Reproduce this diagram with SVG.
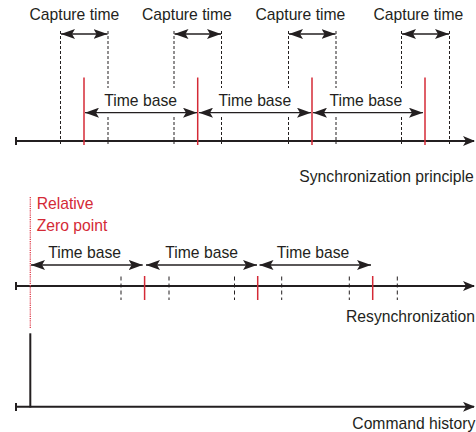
<svg xmlns="http://www.w3.org/2000/svg" width="476" height="432" viewBox="0 0 476 432">
<defs>
<style>
.t{font-family:"Liberation Sans",Arial,Helvetica,sans-serif;font-size:15.7px;fill:#231f20}
.r{fill:#d42a36}
.ax{stroke:#231f20;stroke-width:2;fill:none}
.ar{stroke:#231f20;stroke-width:1.3;fill:none;marker-start:url(#ah);marker-end:url(#ah)}
.dash{stroke:#231f20;stroke-width:1;stroke-dasharray:3 2;fill:none}
.dash2{stroke:#231f20;stroke-width:1;stroke-dasharray:4 3;fill:none}
.red{stroke:#d42a36;stroke-width:1.5;fill:none}
</style>
<marker id="ah" viewBox="0 0 14 10" refX="14" refY="5" markerWidth="14" markerHeight="10" markerUnits="userSpaceOnUse" orient="auto-start-reverse">
<path d="M0,0 L14,5 L0,10 L3,5 z" fill="#231f20"/>
</marker>
<marker id="ae" viewBox="0 0 12 10" refX="11" refY="5" markerWidth="12" markerHeight="10" markerUnits="userSpaceOnUse" orient="auto">
<path d="M0,0 L12,5 L0,10 L3,5 z" fill="#231f20"/>
</marker>
</defs>

<g id="connectors">
<g id="sync-axis">
<line class="ax" x1="16" y1="141" x2="474" y2="141" marker-end="url(#ae)"/>
<line class="ax" x1="16" y1="137" x2="16" y2="145" stroke-width="1.5"/>
</g>
<g id="sync-dashes">
<line class="dash" x1="60.5" y1="31" x2="60.5" y2="144"/>
<line class="dash" x1="108" y1="31" x2="108" y2="88"/>
<line class="dash" x1="108" y1="117" x2="108" y2="144"/>
<line class="dash" x1="174" y1="31" x2="174" y2="88"/>
<line class="dash" x1="174" y1="117" x2="174" y2="144"/>
<line class="dash" x1="221.5" y1="31" x2="221.5" y2="88"/>
<line class="dash" x1="221.5" y1="117" x2="221.5" y2="144"/>
<line class="dash" x1="288.5" y1="31" x2="288.5" y2="88"/>
<line class="dash" x1="288.5" y1="117" x2="288.5" y2="144"/>
<line class="dash" x1="336" y1="31" x2="336" y2="88"/>
<line class="dash" x1="336" y1="117" x2="336" y2="144"/>
<line class="dash" x1="401.5" y1="31" x2="401.5" y2="88"/>
<line class="dash" x1="401.5" y1="117" x2="401.5" y2="144"/>
<line class="dash" x1="449.5" y1="31" x2="449.5" y2="144"/>
</g>
<g id="sync-red">
<line class="red" x1="84" y1="77.5" x2="84" y2="145"/>
<line class="red" x1="197.7" y1="77.5" x2="197.7" y2="145"/>
<line class="red" x1="312" y1="77.5" x2="312" y2="145"/>
<line class="red" x1="425" y1="77.5" x2="425" y2="145"/>
</g>
<g id="capture-arrows">
<line class="ar" x1="61" y1="34" x2="107.5" y2="34"/>
<line class="ar" x1="174.5" y1="34" x2="221" y2="34"/>
<line class="ar" x1="289" y1="34" x2="335.5" y2="34"/>
<line class="ar" x1="402" y1="34" x2="449" y2="34"/>
</g>
<g id="timebase-arrows-top">
<line class="ar" x1="85" y1="112.7" x2="197" y2="112.7"/>
<line class="ar" x1="199" y1="112.7" x2="311" y2="112.7"/>
<line class="ar" x1="313" y1="112.7" x2="423" y2="112.7"/>
</g>

<g id="resync-axis">
<line class="ax" x1="16" y1="286" x2="474" y2="286" marker-end="url(#ae)"/>
<line class="ax" x1="16" y1="282" x2="16" y2="290" stroke-width="1.5"/>
</g>
<line id="zero-line" x1="30.3" y1="197" x2="30.3" y2="328.5" stroke="#e0404e" stroke-width="1.3" stroke-dasharray="1.2 1"/>
<g id="resync-ticks">
<line class="dash2" x1="121" y1="276.5" x2="121" y2="300"/>
<line class="dash2" x1="169" y1="276.5" x2="169" y2="300"/>
<line class="dash2" x1="234.5" y1="276.5" x2="234.5" y2="300"/>
<line class="dash2" x1="281.7" y1="276.5" x2="281.7" y2="300"/>
<line class="dash2" x1="349.3" y1="276.5" x2="349.3" y2="300"/>
<line class="dash2" x1="397.3" y1="276.5" x2="397.3" y2="300"/>
<line class="red" x1="144.6" y1="276" x2="144.6" y2="300"/>
<line class="red" x1="257.7" y1="276" x2="257.7" y2="300"/>
<line class="red" x1="372.7" y1="276" x2="372.7" y2="300"/>
</g>
<g id="timebase-arrows-mid">
<line class="ar" x1="31" y1="265" x2="142.7" y2="265"/>
<line class="ar" x1="146" y1="265" x2="257" y2="265"/>
<line class="ar" x1="259.5" y1="265" x2="371" y2="265"/>
</g>

<g id="command-axis">
<line class="ax" x1="16" y1="406.8" x2="474" y2="406.8" marker-end="url(#ae)"/>
<line class="ax" x1="16" y1="403" x2="16" y2="411" stroke-width="1.5"/>
<line class="ax" x1="30.3" y1="333.3" x2="30.3" y2="407.5" stroke-width="2.4"/>
</g>
</g>

<g id="labels-capture">
<text class="t" x="29.5" y="20">Capture time</text>
<text class="t" x="142" y="20">Capture time</text>
<text class="t" x="255.5" y="20">Capture time</text>
<text class="t" x="373.5" y="20">Capture time</text>
</g>
<g id="labels-timebase-top">
<text class="t" x="104.3" y="105.5">Time base</text>
<text class="t" x="218.5" y="105.5">Time base</text>
<text class="t" x="329.5" y="105.5">Time base</text>
</g>
<g id="label-sync"><text class="t" x="299.3" y="181.5">Synchronization principle</text></g>
<g id="label-zero">
<text class="t r" x="36.7" y="209">Relative</text>
<text class="t r" x="36.7" y="230.7">Zero point</text>
</g>
<g id="labels-timebase-mid">
<text class="t" x="48.3" y="258.3">Time base</text>
<text class="t" x="165.3" y="258.3">Time base</text>
<text class="t" x="276.7" y="258.3">Time base</text>
</g>
<g id="label-resync"><text class="t" x="346" y="321.5">Resynchronization</text></g>
<g id="label-command"><text class="t" x="352.3" y="428.8">Command history</text></g>
</svg>
